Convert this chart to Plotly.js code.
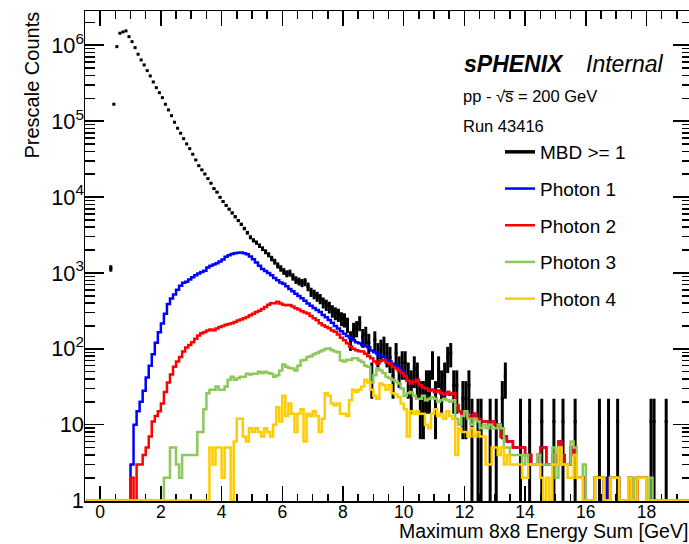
<!DOCTYPE html>
<html><head><meta charset="utf-8">
<script src="https://cdn.plot.ly/plotly-3.0.1.min.js"></script>
<style>html,body{margin:0;padding:0;overflow:hidden;background:#fff}</style>
</head><body><div id="chart" style="width:700px;height:544px"></div>
<script>
// Histogram binning: 200 bins of 0.1 GeV from -0.5 to 19.5
const BIN_LOW = -0.5, BIN_WIDTH = 0.1, N_BINS = 200;
const PRESCALE = 11;

// Rows: [-0.45..-0.05], then one row per GeV (x.05 .. x.95), then [19.05..19.45]
const mbd = [
0,0,0,0,0,
0,0,0,1150,167000,958000,1440000,1497000,1543000,1298000,
1115000,929000,761000,640000,550000,463000,394000,328000,276000,237000,
204000,167000,140600,118000,96700,80600,69200,58800,50100,43400,
36600,30800,25900,22800,20100,17500,15200,12900,11600,9930,
8710,7760,6920,6170,5500,4900,4370,3850,3390,2950,
2690,2510,2290,2090,1905,1740,1550,1410,1260,1150,
1050,980,1000,890,810,775,740,760,660,560,
525,490,457,407,380,355,316,295,282,251,
242,209,132,176,187,220,143,154,121,44,
132,88,99,110,88,77,44,88,55,66,
66,44,33,55,44,22,22,33,33,66,
22,55,33,44,77,88,33,33,0,22,
22,33,11,0,11,11,0,0,11,0,
11,0,22,44,0,0,0,0,11,0,
0,11,0,0,0,11,0,0,0,11,
0,0,11,0,0,0,11,0,0,0,
0,0,0,0,11,0,0,11,0,0,
11,0,0,0,0,0,0,0,0,0,
0,11,11,0,0,0,11,0,0,0,
0,0,0,0,0
];
const photon1 = [
0,0,0,0,0,
0,0,0,0,0,0,0,0,0,0,
3,10,15,20,28,42,60,85,120,165,
215,290,390,460,520,600,680,740,765,820,
880,930,985,1030,1070,1180,1240,1290,1340,1410,
1500,1630,1710,1780,1820,1850,1860,1820,1760,1640,
1510,1370,1240,1130,1060,1000,930,860,800,750,
720,665,615,575,530,495,465,430,395,370,
345,325,305,280,260,240,220,200,185,170,
158,148,140,130,122,118,112,108,105,95,
90,86,80,78,72,68,63,60,56,52,
44,38,35,37,39,33,31,30,28,29,
27,28,26,25,27,25,26,18,15,14,
14,13,12,14,12,11,11,11,10,11,
10,10,7,7,6,6,5,5,5,5,
4,4,3,3,4,5,5,3,3,4,
3,6,4,3,3,5,4,2,2,2,
1,1,1,2,2,2,1,2,2,2,
2,1,1,1,2,1,1,2,2,2,
1,1,1,0,0,0,0,0,0,0,
0,0,0,0,0
];
const photon2 = [
0,0,0,0,0,
0,0,0,0,0,0,0,0,0,0,
2,0,3,3,4,5,7,11,13,15,
19,27,36,46,58,68,78,92,104,112,
122,136,150,160,166,175,180,176,185,194,
200,208,212,218,226,236,244,252,262,276,
290,305,318,335,355,380,400,400,418,395,
380,375,378,360,343,330,312,300,292,270,
252,238,218,205,195,186,175,168,155,140,
130,118,107,100,96,93,92,86,80,75,
68,64,70,71,66,64,58,55,52,48,
44,38,35,37,39,33,31,30,28,29,
27,28,26,25,27,25,26,18,15,14,
14,13,12,14,12,11,11,11,10,11,
10,10,7,7,6,6,5,5,5,5,
4,4,3,3,4,5,5,3,3,4,
3,6,4,3,3,5,4,2,2,2,
1,1,1,2,2,2,1,1,2,2,
2,1,1,1,2,1,1,2,2,2,
1,1,1,0,0,0,0,0,0,0,
0,0,0,0,0
];
const photon3 = [
0,0,0,0,0,
0,0,0,0,0,0,0,0,0,0,
0,0,0,0,0,0,0,0,0,0,
0,2,2,5,5,3,2,4,4,4,
4,4,8,8,16,26,29,29,32,29,
29,32,39,43,39,41,43,43,47,46,
47,47,50,48,50,48,47,43,45,52,
62,58,56,55,52,60,70,72,78,80,
85,88,92,96,100,101,96,92,90,70,
68,72,71,75,75,70,67,60,58,36,
45,55,52,48,43,41,39,37,35,30,
24,26,27,24,22,22,24,21,22,23,
22,20,21,22,21,20,21,12,10,13,
15,12,10,12,11,9,10,9,10,9,
9,10,9,5,5,4,4,4,4,3,
4,3,3,3,4,3,3,3,3,5,
2,5,3,3,3,6,5,2,2,3,
1,1,1,2,2,2,0,0,2,2,
2,1,1,1,2,1,2,2,2,2,
1,2,0,0,0,0,0,0,0,0,
0,0,0,0,0
];
const photon4 = [
0,0,0,0,0,
0,0,0,0,0,0,0,0,0,0,
0,0,0,0,0,0,0,0,0,0,
0,0,0,0,0,0,0,0,0,0,
0,0,0,0,0,0,5,3,5,5,
2,5,5,1,6,12,12,7,6,9,
8,9,8,7,9,8,7,10,17,11,
24,13,19,14,8,14,16,6,14,13,
15,13,8,12,26,24,19,18,19,14,
14,13,21,29,27,29,32,39,36,29,
24,22,35,33,29,33,26,25,23,19,
16,7,15,14,15,14,14,10,9,14,
16,13,14,12,15,13,12,4,9,8,
8,7,9,7,8,7,7,3,3,5,
5,4,5,3,4,3,3,3,3,2,
2,3,3,3,3,2,1,2,1,3,
3,5,3,3,2,2,4,2,2,1,
1,1,1,2,2,2,1,1,2,2,
2,1,1,1,2,1,1,2,2,2,
1,1,1,0,0,0,0,0,0,0,
0,0,0,0,0
];
const seriesNames = ['MBD >= 1', 'Photon 1', 'Photon 2', 'Photon 3', 'Photon 4'];
const seriesColors = ['#000000', '#0000ff', '#ff0000', '#8cc85a', '#ffcc00'];
const xTitle = 'Maximum 8x8 Energy Sum [GeV]';
const yTitle = 'Prescale Counts';
const labelLines = ['<b><i>sPHENIX</i></b>', '<i>Internal</i>', 'pp - \u221As\u0305 = 200 GeV', 'Run 43416'];

// ---- build ----
const Y_FLOOR = 1; // histogram minimum drawn at frame bottom, as in ROOT
const centers = Array.from({length: N_BINS}, (_, i) => BIN_LOW + BIN_WIDTH * (i + 0.5));
const FONT = 'Liberation Sans, Arial, Helvetica, sans-serif';

// plot-area geometry (px) -> paper helpers
const W = 700, H = 544, ML = 85, MR = 8, MT = 11, MB = 43;
const PW = W - ML - MR, PH = H - MT - MB;
const px = x => (x - ML) / PW;
const py = y => (H - MB - y) / PH;

const traces = [];
traces.push({type: 'scatter', mode: 'lines', x: [null], y: [null], name: seriesNames[0],
  line: {color: seriesColors[0], width: 3.5}, legendgroup: 'g0', hoverinfo: 'skip'});
traces.push({type: 'scatter', mode: 'markers', x: centers, y: mbd, showlegend: false, legendgroup: 'g0',
  marker: {symbol: 'square', size: 3, color: seriesColors[0]},
  error_y: {type: 'data', array: mbd.map(v => Math.sqrt(PRESCALE * v)), color: seriesColors[0], thickness: 3, width: 0},
  hoverinfo: 'skip'});
[photon1, photon2, photon3, photon4].forEach((vals, k) => {
  traces.push({type: 'scatter', mode: 'lines', x: centers, y: vals.map(v => Math.max(v, Y_FLOOR)),
    name: seriesNames[k + 1], legendgroup: 'g' + (k + 1),
    line: {color: seriesColors[k + 1], width: 2.5, shape: 'hvh'}, hoverinfo: 'skip'});
});

const annotations = [
  {text: yTitle, textangle: -90, xref: 'paper', yref: 'paper', x: px(32), y: py(9), xanchor: 'center', yanchor: 'top', showarrow: false, font: {size: 20}},
  {text: xTitle, xref: 'paper', yref: 'paper', x: px(690), y: py(518), xanchor: 'right', yanchor: 'top', showarrow: false, font: {size: 19.5}},
  {text: labelLines[0], xref: 'paper', yref: 'paper', x: px(462), y: py(49), xanchor: 'left', yanchor: 'top', showarrow: false, font: {size: 23}},
  {text: labelLines[1], xref: 'paper', yref: 'paper', x: px(584), y: py(49), xanchor: 'left', yanchor: 'top', showarrow: false, font: {size: 23}},
  {text: labelLines[2], xref: 'paper', yref: 'paper', x: px(461), y: py(85), xanchor: 'left', yanchor: 'top', showarrow: false, font: {size: 16.5}},
  {text: labelLines[3], xref: 'paper', yref: 'paper', x: px(461), y: py(115), xanchor: 'left', yanchor: 'top', showarrow: false, font: {size: 16.5}}
];

const layout = {
  width: W, height: H,
  margin: {l: ML, r: MR, t: MT, b: MB, pad: 0},
  paper_bgcolor: '#fff', plot_bgcolor: '#fff',
  font: {family: FONT, color: '#000', size: 17},
  showlegend: true,
  legend: {x: px(500), y: py(133), xanchor: 'left', yanchor: 'top', bgcolor: 'rgba(0,0,0,0)',
    borderwidth: 0, font: {size: 19}, traceorder: 'grouped', tracegroupgap: 9},
  xaxis: {range: [-0.5, 19.5], tick0: 0, dtick: 2, ticks: 'inside', ticklen: 15, tickwidth: 1.5, tickcolor: '#000',
    minor: {dtick: 0.5, ticklen: 7.5, tickwidth: 1.5, tickcolor: '#000', ticks: 'inside'},
    showline: true, linewidth: 1.5, linecolor: '#000', mirror: 'ticks', showgrid: false, zeroline: false,
    tickfont: {size: 17.5}, layer: 'below traces', ticklabelstandoff: -6},
  yaxis: {type: 'log', range: [-0.005, 6.451], dtick: 1, exponentformat: 'power', ticks: 'inside', ticklen: 19, tickwidth: 1.5, tickcolor: '#000',
    minor: {dtick: 'D1', ticklen: 10, tickwidth: 1.5, tickcolor: '#000', ticks: 'inside'},
    showline: true, linewidth: 1.5, linecolor: '#000', mirror: 'ticks', showgrid: false, zeroline: false,
    tickfont: {size: 17.5}, layer: 'below traces', ticklabelstandoff: -4},
  annotations: annotations
};

Plotly.newPlot('chart', traces, layout, {staticPlot: true, displayModeBar: false});
</script>
</body></html>
